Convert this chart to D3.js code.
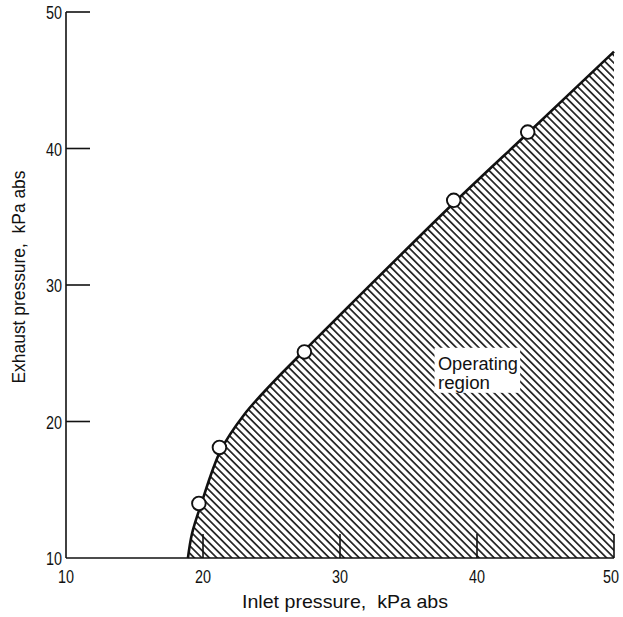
<!DOCTYPE html>
<html>
<head>
<meta charset="utf-8">
<script src="https://cdn.jsdelivr.net/npm/d3@7"></script>
<style>
  html, body { margin: 0; padding: 0; background: #fff; }
  svg text { font-family: 'Liberation Sans', Arial, sans-serif; fill: #111; }
</style>
</head>
<body>
<svg id="chart" width="623" height="617"></svg>
<script>
// Measured operating points (inlet vs exhaust pressure, kPa abs)
const inletPoints   = [19.7, 21.2, 27.4, 38.3, 43.7];
const exhaustPoints = [14.0, 18.1, 25.1, 36.2, 41.2];

// Faired boundary curve of the operating region
const fitInlet   = [18.9, 19.2, 19.85, 21.3, 23.0, 25.0, 27.4, 30.7, 38.4, 43.9, 50.0];
const fitExhaust = [10.0, 11.8, 13.9, 17.9, 20.5, 22.75, 25.2, 28.5, 36.1, 41.3, 47.1];

const xTicks = [10, 20, 30, 40, 50];
const yTicks = [10, 20, 30, 40, 50];
const xTitle = "Inlet pressure,  kPa abs";
const yTitle = "Exhaust pressure,  kPa abs";
const regionLabel = ["Operating", "region"];

const svg = d3.select("#chart");
const x = d3.scaleLinear().domain([10, 50]).range([66, 614]);
const y = d3.scaleLinear().domain([10, 50]).range([558, 12]);

// Hatch pattern for the operating region
const defs = svg.append("defs");
const pat = defs.append("pattern")
  .attr("id", "hatch")
  .attr("patternUnits", "userSpaceOnUse")
  .attr("width", 5.3).attr("height", 5.3)
  .attr("patternTransform", "rotate(45)");
pat.append("line")
  .attr("x1", -1).attr("x2", 7).attr("y1", 2.65).attr("y2", 2.65)
  .attr("stroke", "#111").attr("stroke-width", 1.6);

const fit = fitInlet.map((v, i) => [v, fitExhaust[i]]);
const line = d3.line()
  .x(d => x(d[0])).y(d => y(d[1]))
  .curve(d3.curveCatmullRom.alpha(0.5));

// Shaded region: under the curve, bounded by x = 50 and y = 10
svg.append("path")
  .attr("d", line(fit) + `L${x(50)},${y(10)}Z`)
  .attr("fill", "url(#hatch)")
  .attr("stroke", "none");

// Axes
const g = svg.append("g").attr("stroke", "#111").attr("stroke-width", 1.6).attr("fill", "none");
g.append("line").attr("x1", x(10)).attr("x2", x(10)).attr("y1", y(50)).attr("y2", y(10));
g.append("line").attr("x1", x(10)).attr("x2", x(50)).attr("y1", y(10)).attr("y2", y(10));

// Inward ticks
yTicks.filter(t => t > 10).forEach(t => {
  g.append("line").attr("x1", x(10)).attr("x2", x(10) + 24).attr("y1", y(t)).attr("y2", y(t));
});
xTicks.filter(t => t > 10).forEach(t => {
  g.append("line").attr("x1", x(t)).attr("x2", x(t)).attr("y1", y(10)).attr("y2", y(10) - 24);
});

// Condensed-looking text: fixed advance via textLength
function narrow(sel, len) {
  sel.attr("textLength", len).attr("lengthAdjust", "spacingAndGlyphs");
}

// Tick labels (the last x label is right-aligned to stay inside the frame)
svg.append("g").selectAll("text").data(yTicks).join("text")
  .attr("x", x(10) - 4).attr("y", d => y(d) + 7)
  .attr("text-anchor", "end").attr("font-size", 19)
  .call(narrow, 16)
  .text(d => d);
svg.append("g").selectAll("text").data(xTicks).join("text")
  .attr("x", d => d === 50 ? 619 : x(d)).attr("y", y(10) + 25)
  .attr("text-anchor", d => d === 50 ? "end" : "middle").attr("font-size", 19)
  .call(narrow, 16)
  .text(d => d);

// Axis titles
svg.append("text")
  .attr("x", 345).attr("y", 608)
  .attr("text-anchor", "middle").attr("font-size", 18.5)
  .attr("xml:space", "preserve")
  .call(narrow, 206)
  .text(xTitle);
svg.append("text")
  .attr("transform", `translate(25,277) rotate(-90)`)
  .attr("text-anchor", "middle").attr("font-size", 18.5)
  .attr("xml:space", "preserve")
  .call(narrow, 213)
  .text(yTitle);

// Boundary curve
svg.append("path")
  .attr("d", line(fit))
  .attr("fill", "none").attr("stroke", "#111").attr("stroke-width", 2.6);

// Data points
svg.append("g").selectAll("circle").data(inletPoints).join("circle")
  .attr("cx", d => x(d)).attr("cy", (d, i) => y(exhaustPoints[i]))
  .attr("r", 6.8)
  .attr("fill", "#fff").attr("stroke", "#111").attr("stroke-width", 1.9);

// Region label on a white box
const lbl = svg.append("g");
lbl.append("rect")
  .attr("x", x(36.9)).attr("y", y(25.4))
  .attr("width", x(43.15) - x(36.9)).attr("height", y(22.1) - y(25.4))
  .attr("fill", "#fff");
const labelLens = [80, 52];
lbl.selectAll("text").data(regionLabel).join("text")
  .attr("x", x(37.15))
  .attr("y", (d, i) => y(23.8) + i * 19.5)
  .attr("font-size", 17.5)
  .attr("textLength", (d, i) => labelLens[i]).attr("lengthAdjust", "spacingAndGlyphs")
  .text(d => d);
</script>
</body>
</html>
